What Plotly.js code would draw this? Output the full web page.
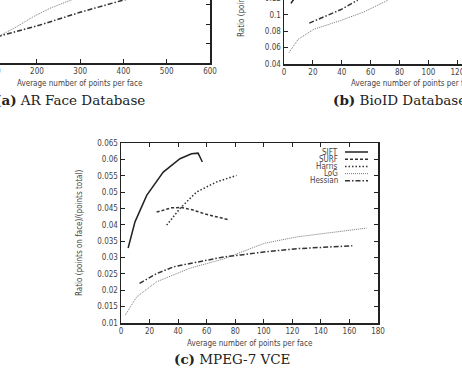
<!DOCTYPE html>
<html>
<head>
<meta charset="utf-8">
<script src="https://cdn.plot.ly/plotly-3.0.1.min.js"></script>
<style>
  html, body { margin: 0; padding: 0; width: 462px; height: 371px; overflow: hidden; background: #fff; }
  #fig { position: absolute; left: -130px; top: -130px; width: 690px; height: 501px; }
</style>
</head>
<body>
<div id="fig"></div>
<script>
// ---- (a) AR Face Database ----
const arLogX = [80, 114.6, 153.2, 191.6, 230, 268.8, 300];
const arLogY = [0.060, 0.0678, 0.0773, 0.0876, 0.0962, 0.103, 0.108];
const arHesX = [60, 114.6, 207, 299.5, 392, 420];
const arHesY = [0.062, 0.0678, 0.079, 0.0921, 0.1037, 0.107];

// ---- (b) BioID Database ----
const bioSiftX = [4.8, 7.1, 10];
const bioSiftY = [0.114, 0.12, 0.13];
const bioLogX = [3.5, 9.7, 20.7, 39, 55, 72];
const bioLogY = [0.054, 0.07, 0.0825, 0.093, 0.1034, 0.118];
const bioHesX = [17.5, 30, 40, 51];
const bioHesY = [0.09, 0.1, 0.107, 0.118];

// ---- (c) MPEG-7 VCE ----
const vceSiftX = [5, 9.8, 18, 29.6, 41.3, 49.4, 54, 57];
const vceSiftY = [0.0329, 0.0409, 0.049, 0.0561, 0.0602, 0.0617, 0.0619, 0.0592];
const vceSurfX = [25, 35.4, 42.4, 50.5, 59.8, 75];
const vceSurfY = [0.0439, 0.0452, 0.0453, 0.0445, 0.0432, 0.0416];
const vceHarrisX = [32, 41.3, 52.9, 66.9, 80.9];
const vceHarrisY = [0.0399, 0.045, 0.05, 0.0531, 0.0551];
const vceLogX = [3, 11, 25, 48, 72, 84, 100, 123, 150, 172];
const vceLogY = [0.0124, 0.018, 0.0226, 0.0267, 0.0296, 0.0316, 0.0343, 0.0363, 0.0378, 0.039];
const vceHesX = [13, 25, 37, 48, 72, 84, 100, 123, 162];
const vceHesY = [0.0221, 0.0251, 0.0272, 0.0282, 0.0302, 0.0308, 0.0317, 0.0327, 0.0336];

const methods = ['SIFT', 'SURF', 'Harris', 'LoG', 'Hessian'];
const xTitle = 'Average number of points per face';
const yTitle = 'Ratio (points on face)/(points total)';

// line style per detector
const styles = {
  SIFT:    { color: '#222', width: 1.5, dash: 'solid' },
  SURF:    { color: '#333', width: 1.5, dash: '3px,2px' },
  Harris:  { color: '#333', width: 1.5, dash: '1.5px,2px' },
  LoG:     { color: '#777', width: 1,   dash: '1px,1px' },
  Hessian: { color: '#333', width: 1.5, dash: '5px,2px,1.5px,2px' }
};

// figure canvas is larger than the window; helpers map window pixels to paper coords
const W = 690, H = 501, OX = 130, OY = 130;
const px = X => (X + OX) / W;
const py = Y => 1 - (Y + OY) / H;

const sans = '"Liberation Sans Narrow", "DejaVu Sans Condensed", "Liberation Sans", sans-serif';
const serif = '"DejaVu Serif", "Liberation Serif", serif';

function tr(name, x, y, xa, ya) {
  return { type: 'scatter', mode: 'lines', name: name, x: x, y: y,
           xaxis: xa, yaxis: ya, line: Object.assign({}, styles[name]),
           showlegend: false, hoverinfo: 'skip' };
}

const data = [
  tr('LoG', arLogX, arLogY, 'x', 'y'),
  tr('Hessian', arHesX, arHesY, 'x', 'y'),
  tr('SIFT', bioSiftX, bioSiftY, 'x2', 'y2'),
  tr('LoG', bioLogX, bioLogY, 'x2', 'y2'),
  tr('Hessian', bioHesX, bioHesY, 'x2', 'y2'),
  tr('SIFT', vceSiftX, vceSiftY, 'x3', 'y3'),
  tr('SURF', vceSurfX, vceSurfY, 'x3', 'y3'),
  tr('Harris', vceHarrisX, vceHarrisY, 'x3', 'y3'),
  tr('LoG', vceLogX, vceLogY, 'x3', 'y3'),
  tr('Hessian', vceHesX, vceHesY, 'x3', 'y3')
];

function ax(extra) {
  return Object.assign({
    showline: true, linecolor: '#222', linewidth: 1.5, mirror: 'allticks',
    ticks: 'inside', ticklen: 4, tickwidth: 1, tickcolor: '#222',
    showgrid: false, zeroline: false,
    tickfont: { family: sans, size: 8, color: '#444' }
  }, extra);
}

// plot-area boxes in window pixels: [left, right, top, bottom]
const boxA = [-49.6, 210, -117, 63];
const boxB = [284, 544, -116, 64];
const boxC = [121, 378, 143, 323];

const layout = {
  width: W, height: H,
  margin: { l: 0, r: 0, t: 0, b: 0 },
  paper_bgcolor: '#fff', plot_bgcolor: '#fff',
  showlegend: false,
  xaxis:  ax({ domain: [px(boxA[0]), px(boxA[1])], range: [0, 600], dtick: 100, anchor: 'y' }),
  yaxis:  ax({ domain: [py(boxA[3]), py(boxA[2])], range: [0.04, 0.225], dtick: 0.02, anchor: 'x' }),
  xaxis2: ax({ domain: [px(boxB[0]), px(boxB[1])], range: [0, 180], dtick: 20, anchor: 'y2' }),
  yaxis2: ax({ domain: [py(boxB[3]), py(boxB[2])], range: [0.04, 0.26], dtick: 0.02, anchor: 'x2' }),
  xaxis3: ax({ domain: [px(boxC[0]), px(boxC[1])], range: [0, 180], dtick: 20, anchor: 'y3' }),
  yaxis3: ax({ domain: [py(boxC[3]), py(boxC[2])], range: [0.01, 0.065], dtick: 0.005, anchor: 'x3' }),
  annotations: [],
  shapes: []
};

const ann = layout.annotations;
function text(t, X, Y, opts) {
  ann.push(Object.assign({ xref: 'paper', yref: 'paper', x: px(X), y: py(Y), text: t,
    showarrow: false, xanchor: 'center', yanchor: 'middle',
    font: { family: sans, size: 8, color: '#444' } }, opts || {}));
}

// axis titles
[boxA, boxB, boxC].forEach(b => {
  text(xTitle, (b[0] + b[1]) / 2, b[3] + 20);
  text(yTitle, b[0] - 42, (b[2] + b[3]) / 2, { textangle: -90 });
});

// sub-figure captions
const capFont = { family: serif, size: 13.5, color: '#222' };
text('<b>(a)</b> AR Face Database', -7, 100, { xanchor: 'left', font: capFont });
text('<b>(b)</b> BioID Database', 331, 100, { xanchor: 'left', font: capFont });
text('<b>(c)</b> MPEG-7 VCE', 172, 359, { xanchor: 'left', font: capFont });

// key for (c): labels right-aligned with line samples to their right
methods.forEach((m, i) => {
  const Y = 152 + i * 7.2;
  text(m, 340, Y, { xanchor: 'right', font: { family: sans, size: 8, color: '#444' } });
  layout.shapes.push({ type: 'line', xref: 'paper', yref: 'paper',
    x0: px(345), x1: px(368), y0: py(Y), y1: py(Y), line: Object.assign({}, styles[m]) });
});

Plotly.newPlot('fig', data, layout, { staticPlot: true, displayModeBar: false });
</script>
</body>
</html>
